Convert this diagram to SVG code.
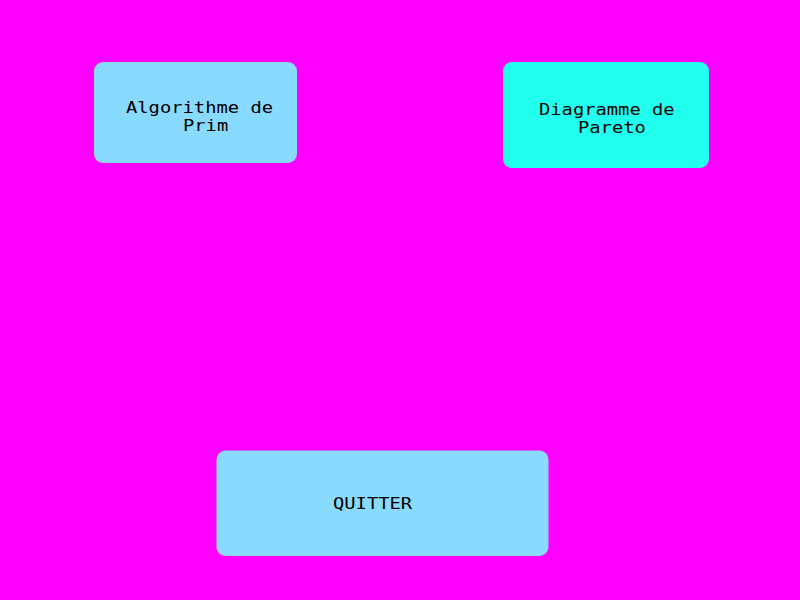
<svg xmlns="http://www.w3.org/2000/svg" width="800" height="600" viewBox="0 0 800 600">
<style>
.box{stroke:none}
.lbl{font-family:"DejaVu Sans Mono","Liberation Mono",monospace;font-size:16px;fill:#000}
</style>
<rect width="800" height="600" fill="#FF00FF"/>
<g id="node-prim">
<rect class="box" x="94" y="62" width="203" height="101" rx="9" fill="#88DAFF"/>
<text class="lbl" x="126" y="113" textLength="147" lengthAdjust="spacingAndGlyphs">Algorithme de</text>
<text class="lbl" x="183" y="131" textLength="45.2" lengthAdjust="spacingAndGlyphs">Prim</text>
</g>
<g id="node-pareto">
<rect class="box" x="503" y="62" width="206" height="106" rx="9" fill="#22FFEE"/>
<text class="lbl" x="539" y="115" textLength="135.6" lengthAdjust="spacingAndGlyphs">Diagramme de</text>
<text class="lbl" x="578" y="133" textLength="67.8" lengthAdjust="spacingAndGlyphs">Pareto</text>
</g>
<g id="node-quitter">
<rect class="box" x="216.5" y="450.5" width="332" height="105.5" rx="9" fill="#88DAFF"/>
<text class="lbl" x="333" y="509" textLength="79.1" lengthAdjust="spacingAndGlyphs">QUITTER</text>
</g>
<g id="connectors"></g>
</svg>
